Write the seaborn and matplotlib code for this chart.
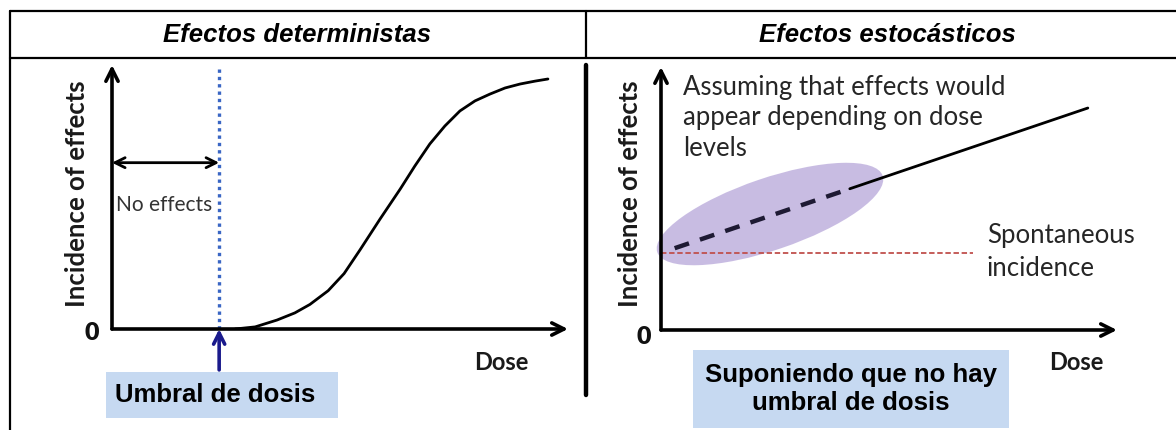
import numpy as np
import pandas as pd
import matplotlib
matplotlib.use("Agg")
import matplotlib.pyplot as plt
from matplotlib.patches import Ellipse, Rectangle
import seaborn as sns

# ---------------- data ----------------
panel_titles = ["Efectos deterministas", "Efectos estocásticos"]
y_label = "Incidence of effects"
x_label = "Dose"
note_lines = ["Assuming that effects would", "appear depending on dose", "levels"]
spont_lines = ["Spontaneous", "incidence"]

# deterministic: threshold + sigmoid response
threshold_dose = 2.35
det_dose = [2.70, 3.14, 3.62, 4.01, 4.34, 4.74, 5.09, 5.44, 5.88, 6.32,
            6.64, 6.97, 7.30, 7.63, 7.96, 8.29, 8.62, 8.95, 9.28, 9.56]
det_incidence = [0.00, 0.08, 0.34, 0.61, 0.93, 1.45, 2.10, 3.00, 4.17, 5.30,
                 6.17, 7.01, 7.69, 8.26, 8.64, 8.90, 9.13, 9.28, 9.39, 9.47]

# stochastic: linear no-threshold
spont_level = 2.93
sto_dashed_dose = [0.30, 4.14]
sto_dashed_inc = [3.11, 5.37]
sto_solid_dose = [4.14, 9.36]
sto_solid_inc = [5.37, 8.44]
spont_dose = [0.0, 6.84]
spont_inc = [spont_level, spont_level]
ellipse_center = (2.39, 4.41)

# ---------------- figure ----------------
sns.set_theme(style="white")
plt.rcParams["font.family"] = ["Lato", "DejaVu Sans"]
W, H = 1176, 430
fig = plt.figure(figsize=(W / 100, H / 100), dpi=100)

bg = fig.add_axes([0, 0, 1, 1])
bg.set_xlim(0, W)
bg.set_ylim(H, 0)
bg.axis("off")

def panel(x0, x1, ytop, ybot):
    ax = fig.add_axes([x0 / W, (H - ybot) / H, (x1 - x0) / W, (ybot - ytop) / H])
    ax.set_xlim(0, 10)
    ax.set_ylim(0, 10)
    ax.axis("off")
    ax.patch.set_alpha(0)
    for end in [(10, 0), (0, 10)]:
        ax.annotate("", xy=end, xytext=(0, 0),
                    arrowprops=dict(arrowstyle="->", lw=2.6, color="black",
                                    mutation_scale=22, shrinkA=0, shrinkB=0),
                    annotation_clip=False)
    return ax

# table frame
k = "black"
bg.plot([10, W], [11, 11], color=k, lw=1.6)
bg.plot([10, W], [58, 58], color=k, lw=1.6)
bg.plot([10, 10], [11, H], color=k, lw=1.6)
bg.plot([586, 586], [11, 58], color=k, lw=1.6)
bg.plot([586, 586], [65, 395], color=k, lw=3.2)

title_font = dict(family=["Liberation Sans", "DejaVu Sans"], fontweight="bold",
                  fontstyle="italic", fontsize=18.5, ha="center", va="center",
                  color="black")
bg.text(297, 35, panel_titles[0], **title_font)
bg.text(887, 35, panel_titles[1], **title_font)

# ---- left panel ----
axL = panel(112, 568, 65, 329)
sns.lineplot(x=det_dose, y=det_incidence, ax=axL, color="black", lw=2.0, sort=False)
axL.plot([threshold_dose, threshold_dose], [0, 10], color="#3a66c4", lw=2.4,
         linestyle=(0, (1, 1.2)))
axL.annotate("", xy=(0, 6.3), xytext=(threshold_dose, 6.3),
             arrowprops=dict(arrowstyle="<->", lw=2.0, color="black",
                             mutation_scale=18, shrinkA=0, shrinkB=0))
axL.annotate("", xy=(threshold_dose, 0), xytext=(threshold_dose, -1.55),
             arrowprops=dict(arrowstyle="->", lw=2.6, color="#1a1a8c",
                             mutation_scale=20, shrinkA=0, shrinkB=0),
             annotation_clip=False)

lab_font = dict(fontsize=18.5, fontweight="bold", color="#1a1a1a")
zero_font = dict(fontsize=18, fontweight="heavy", color="#111111")
dose_font = dict(fontsize=17, fontweight="bold", color="#1a1a1a")
bg.text(77, 194, y_label, rotation=90, ha="center", va="center", **lab_font)
bg.text(92, 333, "0", ha="center", va="center", **zero_font)
bg.text(501, 362, x_label, ha="center", va="center", **dose_font)
bg.text(116, 205, "No effects", ha="left", va="center", fontsize=15,
        color="#333333")

bg.add_patch(Rectangle((106, 372), 232, 46, facecolor="#c6d9f1", edgecolor="none"))
bg.text(115, 395, "Umbral de dosis", ha="left", va="center",
        family=["Liberation Sans", "DejaVu Sans"], fontweight="bold",
        fontsize=18.5, color="black")

# ---- right panel ----
axR = panel(661, 1117, 67, 330)
sns.lineplot(x=spont_dose, y=spont_inc, ax=axR, color="#c0504d", lw=1.3,
             linestyle=(0, (3, 1.5)), sort=False)
sns.lineplot(x=sto_dashed_dose, y=sto_dashed_inc, ax=axR, color="#1e1a33", lw=3.2,
             linestyle=(0, (3.4, 2.6)), sort=False)
sns.lineplot(x=sto_solid_dose, y=sto_solid_inc, ax=axR, color="black", lw=2.0,
             sort=False)

# ellipse around the dashed segment (orientation follows the line in pixel space)
p0 = axR.transData.transform((sto_dashed_dose[0], sto_dashed_inc[0]))
p1 = axR.transData.transform((sto_dashed_dose[1], sto_dashed_inc[1]))
ang = np.degrees(np.arctan2(p1[1] - p0[1], p1[0] - p0[0]))
cpx = axR.transData.transform(ellipse_center)
ell = Ellipse((cpx[0], H - cpx[1]), width=238, height=72, angle=-ang,
              facecolor="#937bc7", alpha=0.5, edgecolor="none")
bg.add_patch(ell)

bg.text(630, 194, y_label, rotation=90, ha="center", va="center", **lab_font)
bg.text(644, 337, "0", ha="center", va="center", **zero_font)
bg.text(1076, 362, x_label, ha="center", va="center", **dose_font)

for line, yy in zip(note_lines, [87, 118, 148]):
    bg.text(683, yy, line, ha="left", va="center", fontsize=18.5, color="#262626")
for line, yy in zip(spont_lines, [236, 268]):
    t = bg.text(987, yy, line, ha="left", va="center", fontsize=18.5,
                color="#262626")
    t.set_clip_path(Rectangle((0, 0), 1140, H, transform=bg.transData))
    t.set_clip_on(True)

bg.add_patch(Rectangle((693, 350), 316, 78, facecolor="#c6d9f1", edgecolor="none"))
bg.text(851, 389, "Suponiendo que no hay\numbral de dosis", ha="center",
        va="center", family=["Liberation Sans", "DejaVu Sans"], fontweight="bold",
        fontsize=18.5, color="black", linespacing=1.2)

fig.savefig("out.png", dpi=100)
